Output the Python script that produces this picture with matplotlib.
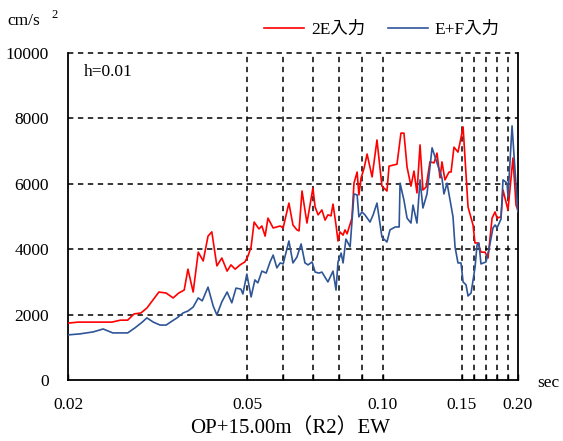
import matplotlib
matplotlib.use("Agg")
import matplotlib.pyplot as plt

plt.rcParams['font.family'] = ['Liberation Serif', 'Noto Sans CJK JP']

# Response spectrum, 2E input (period [s], acceleration [cm/s^2])
period_2e = [0.0200, 0.0210, 0.0250, 0.0261, 0.0271, 0.0280, 0.0290, 0.0299, 0.0318, 0.0330,
             0.0342, 0.0352, 0.0362, 0.0369, 0.0379, 0.0389, 0.0399, 0.0409, 0.0417, 0.0428,
             0.0439, 0.0451, 0.0460, 0.0470, 0.0482, 0.0494, 0.0502, 0.0510, 0.0518, 0.0531,
             0.0539, 0.0548, 0.0556, 0.0571, 0.0582, 0.0592, 0.0601, 0.0619, 0.0632, 0.0645,
             0.0652, 0.0662, 0.0679, 0.0700, 0.0708, 0.0719, 0.0733, 0.0745, 0.0756, 0.0768,
             0.0776, 0.0788, 0.0796, 0.0804, 0.0817, 0.0825, 0.0834, 0.0855, 0.0864, 0.0878,
             0.0886, 0.0896, 0.0910, 0.0924, 0.0948, 0.0972, 0.0997, 0.1023, 0.1034, 0.1077,
             0.1099, 0.1116, 0.1134, 0.1157, 0.1175, 0.1193, 0.1212, 0.1230, 0.1250, 0.1275,
             0.1302, 0.1322, 0.1343, 0.1356, 0.1377, 0.1406, 0.1421, 0.1442, 0.1472, 0.1487,
             0.1511, 0.1550, 0.1590, 0.1606, 0.1631, 0.1656, 0.1691, 0.1717, 0.1753, 0.1780,
             0.1798, 0.1835, 0.1854, 0.1902, 0.1951, 0.1982, 0.2000]
accel_2e = [1740, 1770, 1770, 1830, 1830, 2020, 2050, 2200, 2690, 2660,
            2510, 2660, 2750, 3390, 2690, 3910, 3640, 4400, 4530, 3490,
            3730, 3330, 3520, 3390, 3520, 3610, 3790, 4070, 4830, 4620,
            4710, 4400, 4950, 4650, 4680, 4710, 4650, 5410, 4740, 4590,
            4560, 5780, 4800, 5870, 5290, 5050, 5200, 4890, 5050, 5020,
            5380, 4740, 4250, 4530, 4430, 4590, 4470, 4950, 6020, 6360,
            5660, 6180, 6480, 6910, 6210, 7340, 5930, 5780, 6540, 6600,
            7550, 7550, 6510, 5930, 6390, 5720, 7190, 5810, 5900, 6670,
            6640, 6940, 6180, 6670, 6120, 6360, 6360, 7120, 6970, 7250,
            7740, 5290, 4740, 4190, 4190, 3910, 3910, 3730, 4950, 5140,
            4950, 4990, 5810, 5200, 6790, 5350, 5200]

# Response spectrum, E+F input
period_ef = [0.0200, 0.0212, 0.0227, 0.0239, 0.0251, 0.0271, 0.0281, 0.0292, 0.0299, 0.0309,
             0.0320, 0.0330, 0.0340, 0.0349, 0.0360, 0.0369, 0.0379, 0.0389, 0.0397, 0.0409,
             0.0420, 0.0428, 0.0439, 0.0451, 0.0462, 0.0472, 0.0484, 0.0489, 0.0499, 0.0510,
             0.0520, 0.0528, 0.0539, 0.0551, 0.0562, 0.0571, 0.0582, 0.0592, 0.0601, 0.0619,
             0.0632, 0.0645, 0.0659, 0.0672, 0.0683, 0.0697, 0.0708, 0.0722, 0.0733, 0.0756,
             0.0776, 0.0788, 0.0796, 0.0809, 0.0817, 0.0829, 0.0847, 0.0864, 0.0878, 0.0886,
             0.0900, 0.0914, 0.0938, 0.0953, 0.0972, 0.0997, 0.1023, 0.1039, 0.1067, 0.1089,
             0.1094, 0.1116, 0.1134, 0.1157, 0.1169, 0.1193, 0.1212, 0.1230, 0.1256, 0.1289,
             0.1322, 0.1356, 0.1370, 0.1392, 0.1435, 0.1450, 0.1472, 0.1495, 0.1511, 0.1534,
             0.1550, 0.1574, 0.1606, 0.1623, 0.1639, 0.1656, 0.1699, 0.1726, 0.1761, 0.1780,
             0.1798, 0.1835, 0.1854, 0.1893, 0.1902, 0.1942, 0.2000]
accel_ef = [1380, 1410, 1470, 1560, 1440, 1440, 1590, 1770, 1900, 1770,
            1680, 1680, 1800, 1900, 2050, 2110, 2230, 2510, 2420, 2840,
            2260, 1990, 2390, 2690, 2360, 2810, 2780, 2630, 3240, 2540,
            3060, 2970, 3330, 3270, 3610, 3820, 3430, 3580, 3550, 4250,
            3580, 3760, 4160, 3580, 3520, 3610, 3300, 3270, 3300, 3000,
            3330, 2750, 3610, 3880, 3580, 4310, 4070, 5690, 5660, 4990,
            5140, 5050, 4830, 5050, 5410, 4370, 4220, 4590, 4680, 4680,
            6020, 5500, 4950, 4800, 5350, 4800, 6120, 5260, 5690, 7100,
            6640, 6180, 5690, 6020, 4990, 4070, 3580, 3580, 3000, 2910,
            2570, 2660, 3430, 4130, 4190, 3550, 3610, 4010, 4650, 4740,
            4650, 4920, 6120, 6020, 5600, 7770, 5150]

grid_periods = [0.05, 0.06, 0.07, 0.08, 0.09, 0.10, 0.15, 0.16, 0.17, 0.18, 0.19]
labeled_periods = {0.02: "0.02", 0.05: "0.05", 0.10: "0.10", 0.15: "0.15", 0.20: "0.20"}
grid_accels = [2000, 4000, 6000, 8000, 10000]
y_ticks = [0, 2000, 4000, 6000, 8000, 10000]

fig = plt.figure(figsize=(5.63, 4.41), dpi=100)
ax = fig.add_axes([68.4 / 563, 1 - 380 / 441, (517.8 - 68.4) / 563, (380 - 53) / 441])

ax.set_xscale('log')
ax.set_xlim(0.02, 0.2)
ax.set_ylim(0, 10000)

dash = (0, (3.5, 3.0))
for p in grid_periods:
    ax.axvline(p, color='black', lw=1.1, ls=dash, zorder=1)
for a in grid_accels:
    ax.axhline(a, color='black', lw=1.1, ls=dash, zorder=1, clip_on=False)

ax.plot(period_2e, accel_2e, color='#FF0000', lw=1.2, label='2E入力', zorder=3)
ax.plot(period_ef, accel_ef, color='#2F5597', lw=1.2, label='E+F入力', zorder=3)

xt = [0.02] + grid_periods + [0.20]
ax.set_xticks(xt)
ax.set_xticklabels([labeled_periods.get(round(t, 2), "") for t in xt])
ax.xaxis.set_minor_locator(matplotlib.ticker.NullLocator())
ax.tick_params(axis='x', direction='in', length=4, width=1.0, pad=12, labelsize=12.5)
ax.set_yticks(y_ticks)
ax.set_yticklabels([str(v) for v in y_ticks])
ax.tick_params(axis='y', length=0, pad=14, labelsize=12.5)

ax.spines['top'].set_visible(False)
for s in ['left', 'bottom', 'right']:
    ax.spines[s].set_linewidth(1.3)
    ax.spines[s].set_color('black')

ax.text(84 / 563, 1 - 72 / 441, 'h=0.01', transform=fig.transFigure,
        fontsize=12.5, ha='left', va='center')
fig.text(7 / 563, 1 - 21 / 441, 'cm/s', fontsize=12.5, ha='left', va='center')
fig.text(51 / 563, 1 - 15 / 441, '2', fontsize=9, ha='left', va='center')
fig.text(537 / 563, 1 - 383 / 441, 'sec', fontsize=12.5, ha='left', va='center')
fig.text(290 / 563, 1 - 428 / 441, 'OP+15.00m（R2）EW', fontsize=15,
         ha='center', va='center')

fig.legend(loc='center', bbox_to_anchor=(382 / 563, 1 - 30 / 441), ncol=2,
           frameon=False, fontsize=12.5, handlelength=2.3, handletextpad=0.4,
           columnspacing=1.3)

fig.savefig('out.png', dpi=100)
